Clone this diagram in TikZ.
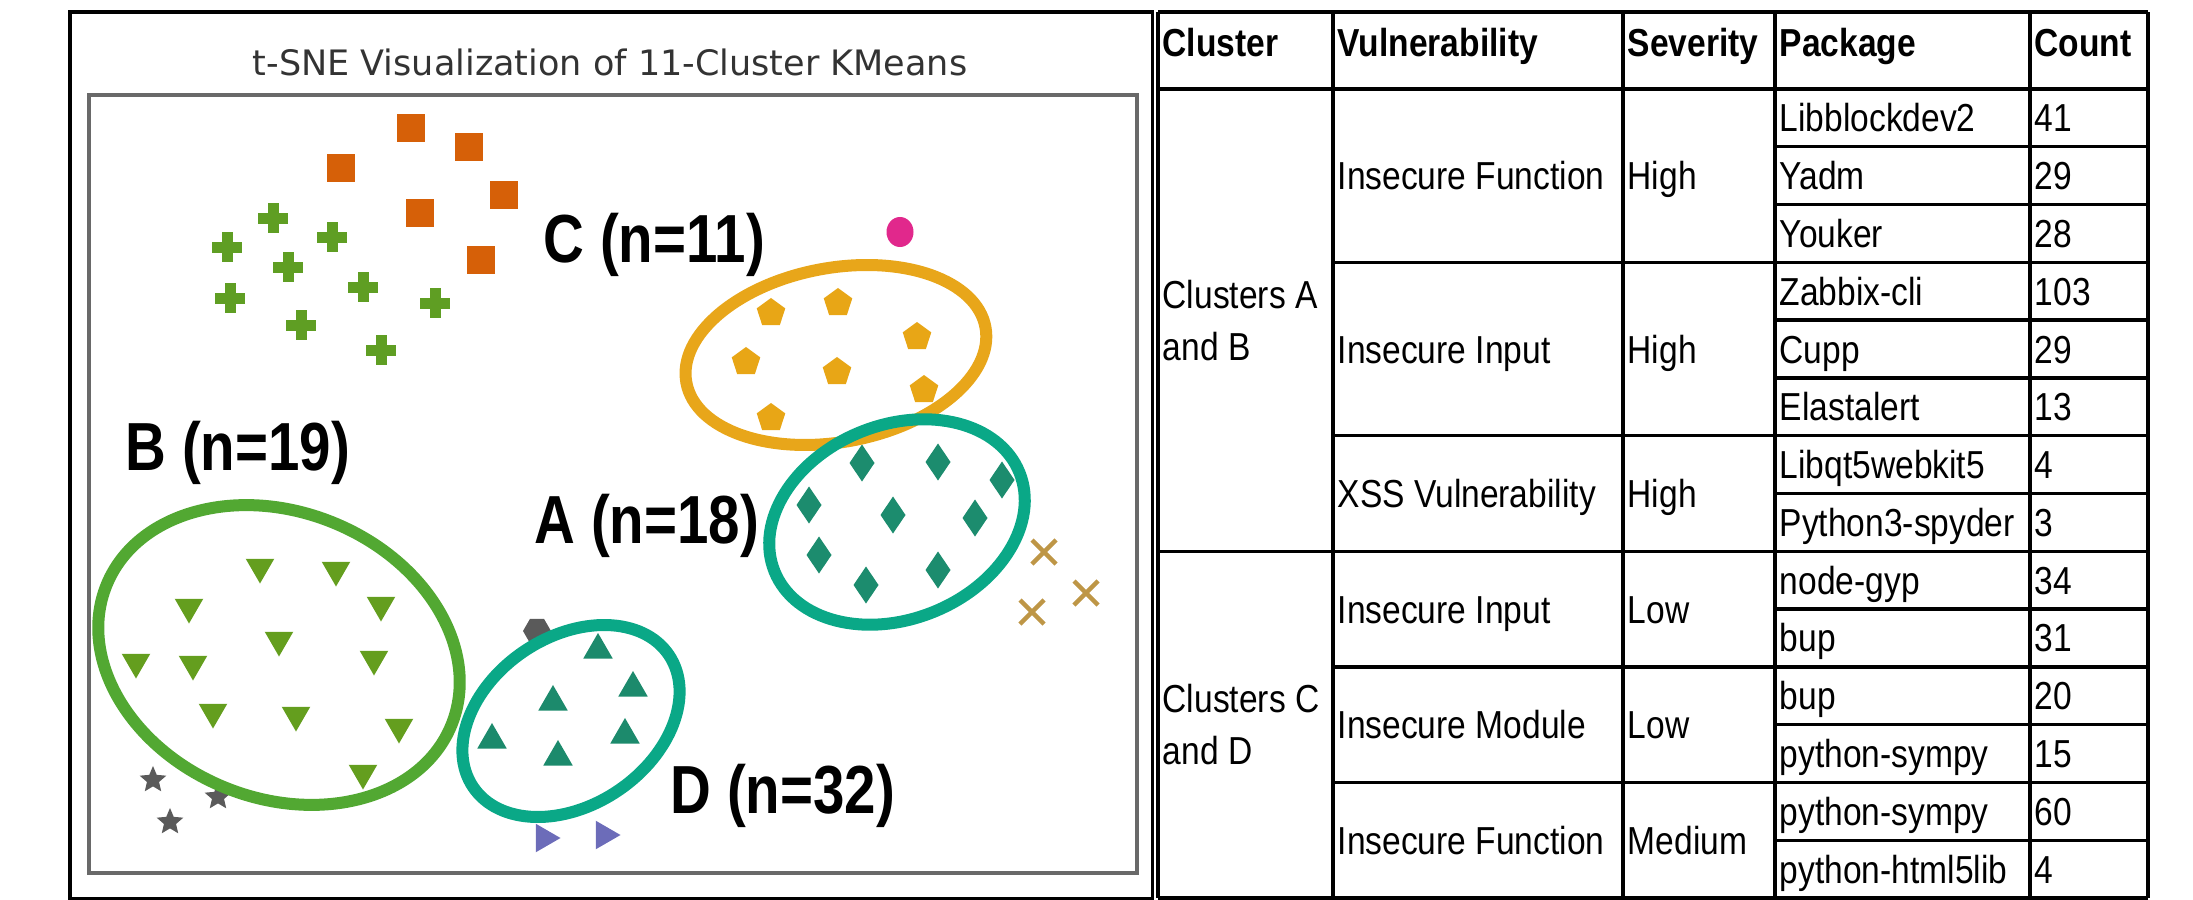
\documentclass[tikz,border=0pt]{standalone}
\usepackage{fontspec}
\setmainfont{Liberation Sans}
\newfontfamily\tabfont[FakeStretch=0.86]{Liberation Sans}
\newfontfamily\clufont[FakeStretch=0.83]{Liberation Sans}
\newfontfamily\titfont{DejaVu Sans}
\usetikzlibrary{shapes.geometric}
\usetikzlibrary{shapes.misc}
\definecolor{axgray}{RGB}{105,105,105}
\definecolor{sqorange}{RGB}{214,96,8}
\definecolor{plusgreen}{RGB}{95,158,35}
\definecolor{dotpink}{RGB}{225,40,140}
\definecolor{pentgold}{RGB}{232,166,22}
\definecolor{diamteal}{RGB}{28,140,110}
\definecolor{crossgold}{RGB}{190,150,70}
\definecolor{trigreen}{RGB}{100,158,30}
\definecolor{tridteal}{RGB}{28,138,108}
\definecolor{hexgray}{RGB}{90,90,90}
\definecolor{arrowpurple}{RGB}{108,108,185}
\definecolor{ringgold}{RGB}{232,166,26}
\definecolor{ringteal}{RGB}{10,168,135}
\definecolor{ringgreen}{RGB}{82,168,50}
\newcommand{\rowh}{57.786}

\begin{document}
\begin{tikzpicture}[%
  x=0.01cm, y=-0.01cm,
  mk/.style={inner sep=0pt, outer sep=0pt},
  poly/.style={mk, regular polygon, regular polygon sides=#1},
  ring/.style={line width=0.12cm},
  tabline/.style={line width=0.95pt},
  cell/.style={inner xsep=0.04cm, inner ysep=0pt, anchor=base west,
    font=\tabfont\fontsize{11.1pt}{14.8pt}\selectfont},
  hdr/.style={cell, font=\tabfont\bfseries\fontsize{11.1pt}{14.8pt}\selectfont},
  clab/.style={inner sep=0pt, anchor=base west,
    font=\clufont\bfseries\fontsize{19.35pt}{22pt}\selectfont},
]

  \useasboundingbox (0,0) rectangle (2193,900);

  \draw[line width=0.03cm] (70,12) rectangle (1152,898);
  \draw[axgray, line width=0.035cm] (89,95) rectangle (1137,873);
  \node[anchor=base, inner sep=0pt, text=black!80,
    font=\titfont\fontsize{9.96pt}{12pt}\selectfont] (title) at (610,75)
    {t-SNE Visualization of 11-Cluster KMeans};

  \foreach \px/\py [count=\i] in {411/128, 469/147, 341/168, 504/195, 420/213, 481/260}
    \node[mk, fill=sqorange, minimum size=0.28cm] (sq\i) at (\px,\py) {};
  \foreach \px/\py in {273/218, 332/237, 227/247, 288/267, 363/287, 230/298, 435/303, 301/325, 381/350}
  {
    \fill[plusgreen] (\px-15,\py-5.5) rectangle (\px+15,\py+5.5);
    \fill[plusgreen] (\px-5.5,\py-15) rectangle (\px+5.5,\py+15);
  }
  \node[mk, ellipse, fill=dotpink, minimum width=0.27cm, minimum height=0.30cm] (dot) at (900,232) {};
  \foreach \px/\py [count=\i] in {771/313, 838/303, 917/337, 746/362, 837/372, 924/390, 771/418}
    \node[poly=5, fill=pentgold, minimum size=0.30cm] (pent\i) at (\px,\py) {};
  \foreach \px/\py [count=\i] in {862/463, 938/462, 1002/480, 809/505, 893/515, 975/518, 819/555, 938/570, 866/585}
    \node[mk, diamond, fill=diamteal, minimum width=0.25cm, minimum height=0.37cm] (dia\i) at (\px,\py) {};
  \foreach \px/\py [count=\i] in {1044/552, 1086/593, 1032/612}
    \node[mk, cross out, draw=crossgold, line width=0.045cm, minimum size=0.24cm] (crs\i) at (\px,\py) {};
  \foreach \px/\py [count=\i] in {260/567, 336/570, 189/607, 381/605, 279/640, 136/662, 193/664, 374/659, 213/712, 296/715, 399/727, 363/773}
    \node[poly=3, fill=trigreen, shape border rotate=180, minimum size=0.33cm] (tdn\i) at (\px,\py) {};
  \foreach \px/\py [count=\i] in {598/650, 553/702, 633/688, 492/740, 625/735, 558/757}
    \node[poly=3, fill=tridteal, minimum size=0.34cm] (tup\i) at (\px,\py) {};
  \node[poly=6, fill=hexgray, minimum size=0.28cm] (hex) at (537,631) {};
  \foreach \px/\py [count=\i] in {153/780, 218/797, 170/822}
    \node[mk, star, star points=5, star point ratio=2.2, fill=hexgray, minimum size=0.28cm] (str\i) at (\px,\py) {};
  \foreach \px/\py [count=\i] in {544/838, 604/835}
    \node[poly=3, fill=arrowpurple, shape border rotate=-90, minimum size=0.33cm] (trt\i) at (\px,\py) {};

  \coordinate (cC) at (836,355);
  \coordinate (cA) at (897,522);
  \coordinate (cB) at (279,655);
  \coordinate (cD) at (571,721);
  \draw[ring, ringgold, rotate around={10.5:(cC)}] (cC) ellipse [x radius=1.52cm, y radius=0.87cm];
  \draw[ring, ringteal, rotate around={22:(cA)}] (cA) ellipse [x radius=1.32cm, y radius=0.97cm];
  \draw[ring, ringgreen, rotate around={-22:(cB)}] (cB) ellipse [x radius=1.86cm, y radius=1.43cm];
  \draw[ring, ringteal, rotate around={34:(cD)}] (cD) ellipse [x radius=1.18cm, y radius=0.84cm];

  \node[clab] (labC) at (543,262) {C (n=11)};
  \node[clab] (labB) at (125,470) {B (n=19)};
  \node[clab] (labA) at (534,543) {A (n=18)};
  \node[clab] (labD) at (670,813) {D (n=32)};

  \foreach \cx in {1158,1333,1623,1775,2030,2148}
    \draw[tabline] (\cx,12) -- (\cx,898);
  \draw[tabline] (1158,12) -- (2148,12);
  \draw[tabline] (1158,89) -- (2148,89);
  \draw[tabline] (1158,898) -- (2148,898);
  \foreach \k in {1,2,4,5,7,9,11,13}
    \draw[tabline] (1775,{89+\k*\rowh}) -- (2148,{89+\k*\rowh});
  \foreach \k in {3,6,10,12}
    \draw[tabline] (1333,{89+\k*\rowh}) -- (2148,{89+\k*\rowh});
  \draw[tabline] (1158,{89+8*\rowh}) -- (2148,{89+8*\rowh});

  \node[hdr] (hCluster) at (1158,56) {Cluster};
  \node[hdr] (hVuln) at (1333,56) {Vulnerability};
  \node[hdr] (hSev) at (1623,56) {Severity};
  \node[hdr] (hPkg) at (1775,56) {Package};
  \node[hdr] (hCount) at (2030,56) {Count};

  \node[cell, anchor=west, align=left] (cluAB) at (1158,{89+4*\rowh}) {Clusters A\\and B};
  \node[cell, anchor=west, align=left] (cluCD) at (1158,{89+11*\rowh}) {Clusters C\\and D};

  \foreach \vul/\sev/\c [count=\j] in {Insecure Function/High/2, Insecure Input/High/5,
    XSS Vulnerability/High/7.5, Insecure Input/Low/9.5, Insecure Module/Low/11.5,
    Insecure Function/Medium/13.5}
  {
    \node[cell] (vul\j) at (1333,{89+(\c-0.5)*\rowh+14}) {\vul};
    \node[cell] (sev\j) at (1623,{89+(\c-0.5)*\rowh+14}) {\sev};
  }

  \foreach \pkg/\cnt [count=\i] in {Libblockdev2/41, Yadm/29, Youker/28, Zabbix-cli/103,
    Cupp/29, Elastalert/13, Libqt5webkit5/4, Python3-spyder/3, node-gyp/34, bup/31,
    bup/20, python-sympy/15, python-sympy/60, python-html5lib/4}
  {
    \node[cell] (pkg\i) at (1775,{89+(\i-0.5)*\rowh+14}) {\pkg};
    \node[cell] (cnt\i) at (2030,{89+(\i-0.5)*\rowh+14}) {\cnt};
  }

\end{tikzpicture}
\end{document}
